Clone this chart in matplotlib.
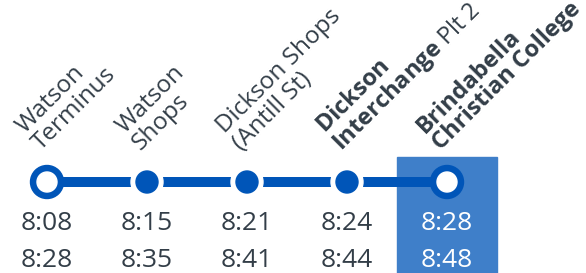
import matplotlib
matplotlib.use("Agg")
import matplotlib.pyplot as plt
from matplotlib.patches import Circle, Rectangle

plt.rcParams['font.family'] = ['Open Sans', 'DejaVu Sans']
plt.rcParams['mathtext.fontset'] = 'custom'
plt.rcParams['mathtext.rm'] = 'Open Sans'
plt.rcParams['mathtext.bf'] = 'Open Sans:bold'

# stop names, two lines each (mathtext bold for mixed weight)
stop_line1 = ['Watson', 'Watson', 'Dickson Shops', r'$\bf{Dickson}$', 'Brindabella']
stop_line2 = ['Terminus', 'Shops', '(Antill St)', r'$\bf{Interchange}$ Plt 2', 'Christian College']
stop_bold = [False, False, False, False, True]
times_row1 = ['8:08', '8:15', '8:21', '8:24', '8:28']
times_row2 = ['8:28', '8:35', '8:41', '8:44', '8:48']
terminus = [True, False, False, False, True]
highlight = 4

LINE = '#0055b8'
BOX = '#3f7fc9'
TEXT = '#333e48'

fig = plt.figure(figsize=(5.86, 2.73), dpi=100)
ax = fig.add_axes([0, 0, 1, 1])
ax.set_xlim(0, 586)
ax.set_ylim(273, 0)
ax.axis('off')

x0, dx, y_line = 47, 100, 182
xs = [x0 + dx * i for i in range(len(times_row1))]

# highlighted column
hx = xs[highlight]
ax.add_patch(Rectangle((hx - 50, 157), 100, 120, color=BOX, zorder=0))

ax.plot([xs[0], xs[-1]], [y_line, y_line], color=LINE, lw=7.2,
        solid_capstyle='butt', zorder=1)

for x, term in zip(xs, terminus):
    if term:
        ax.add_patch(Circle((x, y_line), 16.5, color=LINE, zorder=3))
        ax.add_patch(Circle((x, y_line), 10, color='white', zorder=4))
    else:
        ax.add_patch(Circle((x, y_line), 16, color='white', zorder=2))
        ax.add_patch(Circle((x, y_line), 11, color=LINE, zorder=3))

for i, x in enumerate(xs):
    w = 'bold' if stop_bold[i] else 'normal'
    fs = 17 if (stop_bold[i] or i == 3) else 17.5
    ax.text(x - 22, 134, stop_line1[i], rotation=45, rotation_mode='anchor',
            ha='left', va='baseline', fontsize=fs, color=TEXT, fontweight=w)
    ax.text(x - 6, 151, stop_line2[i], rotation=45, rotation_mode='anchor',
            ha='left', va='baseline', fontsize=fs, color=TEXT, fontweight=w)
    c = 'white' if i == highlight else TEXT
    ax.text(x, 230, times_row1[i], ha='center', va='baseline', fontsize=19, color=c)
    ax.text(x, 267, times_row2[i], ha='center', va='baseline', fontsize=19, color=c)

fig.savefig('out.png', dpi=100)
